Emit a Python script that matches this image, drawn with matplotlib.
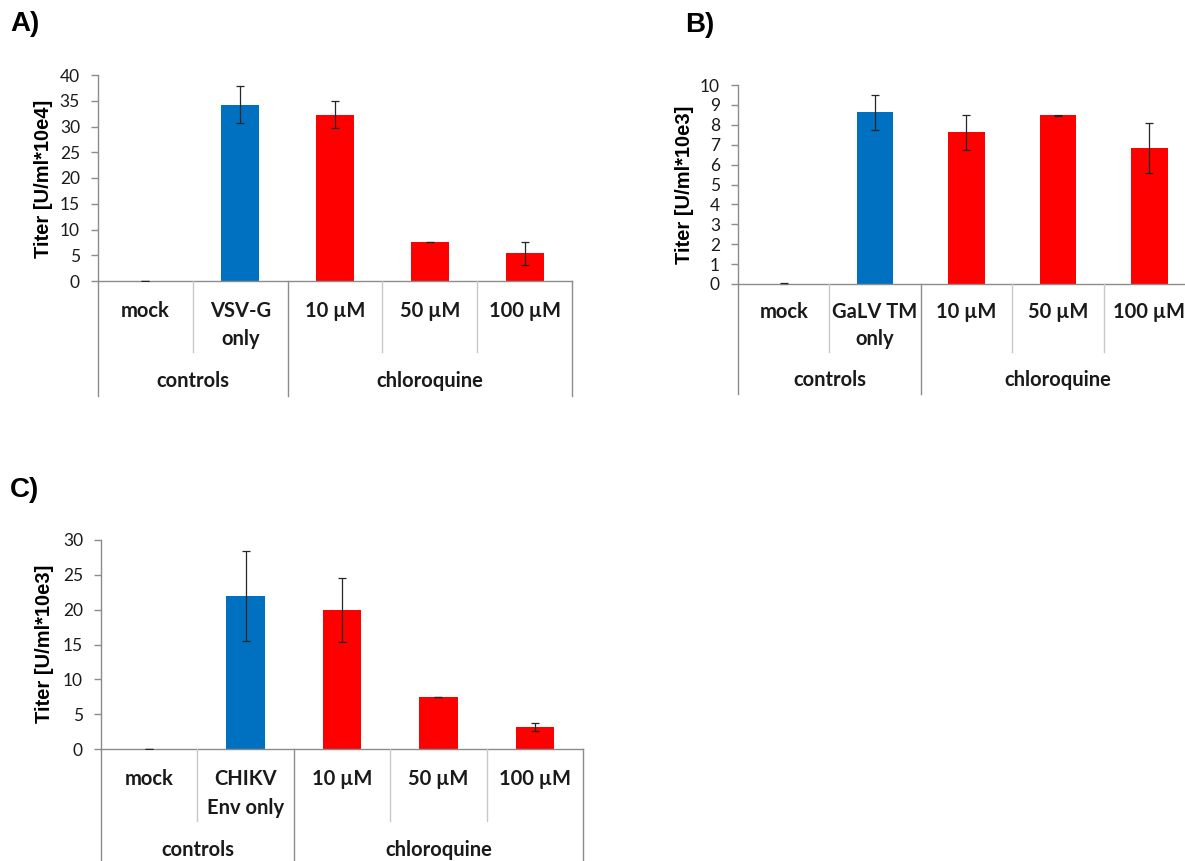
import matplotlib
matplotlib.use("Agg")
import matplotlib.pyplot as plt
from matplotlib.transforms import blended_transform_factory
from matplotlib.lines import Line2D

W, H = 1185, 861
DPI = 100

# ---- data -------------------------------------------------------------
groups = ["controls", "chloroquine"]
group_spans = [(0, 1), (2, 4)]

categories_a = ["mock", "VSV-G\nonly", "10 µM", "50 µM", "100 µM"]
values_a = [0.03, 34.2, 32.3, 7.55, 5.35]
errors_a = [0.04, 3.6, 2.6, 0.05, 2.2]

categories_b = ["mock", "GaLV TM\nonly", "10 µM", "50 µM", "100 µM"]
values_b = [0.02, 8.62, 7.62, 8.48, 6.85]
errors_b = [0.05, 0.87, 0.89, 0.03, 1.25]

categories_c = ["mock", "CHIKV\nEnv only", "10 µM", "50 µM", "100 µM"]
values_c = [0.03, 21.95, 19.95, 7.45, 3.15]
errors_c = [0.03, 6.4, 4.6, 0.05, 0.57]

ylabels = ["Titer [U/ml*10e4]", "Titer [U/ml*10e3]", "Titer [U/ml*10e3]"]
panel_tags = ["A)", "B)", "C)"]
bar_colors = ["#0070C0", "#0070C0", "#FF0000", "#FF0000", "#FF0000"]

# ---- layout (pixels) --------------------------------------------------
panels = [
    dict(cats=categories_a, vals=values_a, errs=errors_a, ymax=40, step=5,
         left=98, right=572, top=75, bottom=281,
         row1=311, row2=339, div1=352, div2=396, grp=381,
         tag=(10, 24), ylab=(44, 179)),
    dict(cats=categories_b, vals=values_b, errs=errors_b, ymax=10, step=1,
         left=738, right=1195, top=85, bottom=284,
         row1=312, row2=339, div1=352, div2=394, grp=380,
         tag=(685, 25), ylab=(685, 185)),
    dict(cats=categories_c, vals=values_c, errs=errors_c, ymax=30, step=5,
         left=101, right=583, top=540, bottom=749,
         row1=779, row2=808, div1=821, div2=861, grp=850,
         tag=(10, 490), ylab=(45, 644)),
]

AXIS_GRAY = "#8C8C8C"
DIV_GRAY = "#C8C8C8"
TICK_FONT = "Lato"
BOLD_FONT = "Liberation Sans"

fig = plt.figure(figsize=(W / DPI, H / DPI), dpi=DPI)
fig.patch.set_facecolor("white")


def fy(py):
    return 1 - py / H


def fx(px):
    return px / W


for p, ylabel, tag in zip(panels, ylabels, panel_tags):
    ax = fig.add_axes([fx(p["left"]), fy(p["bottom"]),
                       (p["right"] - p["left"]) / W,
                       (p["bottom"] - p["top"]) / H])
    n = len(p["cats"])
    xs = list(range(n))
    ax.bar(xs, p["vals"], width=0.4, color=bar_colors, edgecolor="none", zorder=2)
    ax.errorbar(xs, p["vals"], yerr=p["errs"], fmt="none", ecolor="#262626",
                elinewidth=0.9, capsize=3.2, capthick=0.9, zorder=3)

    ax.set_xlim(-0.5, n - 0.5)
    ax.set_ylim(0, p["ymax"])
    ax.set_yticks(range(0, p["ymax"] + 1, p["step"]))
    ax.set_xticks([])
    for s in ("top", "right"):
        ax.spines[s].set_visible(False)
    for s in ("left", "bottom"):
        ax.spines[s].set_color(AXIS_GRAY)
        ax.spines[s].set_linewidth(1.0)
    ax.tick_params(axis="y", direction="out", length=5, width=1.0,
                   color=AXIS_GRAY, pad=8, labelsize=12.5, labelcolor="#1a1a1a")
    for lab in ax.get_yticklabels():
        lab.set_fontfamily(TICK_FONT)

    # category table below the axis
    tr = blended_transform_factory(ax.transData, fig.transFigure)
    y_axis = fy(p["bottom"])
    for i in range(1, n):
        boundary = i - 0.5
        is_group = any(boundary == s[0] - 0.5 for s in group_spans[1:])
        y_end = fy(p["div2"]) if is_group else fy(p["div1"])
        col = AXIS_GRAY if is_group else DIV_GRAY
        fig.add_artist(Line2D([boundary, boundary], [y_axis, y_end],
                              transform=tr, color=col, lw=1.0, clip_on=False))
    for edge in (-0.5, n - 0.5):
        fig.add_artist(Line2D([edge, edge], [y_axis, fy(p["div2"])],
                              transform=tr, color=AXIS_GRAY, lw=1.0, clip_on=False))

    for i, c in enumerate(p["cats"]):
        for j, line in enumerate(c.split("\n")):
            yy = fy(p["row1"] if j == 0 else p["row2"])
            fig.text(i, yy, line, transform=tr, ha="center", va="center",
                     fontsize=14.5, fontweight="bold", fontfamily=TICK_FONT,
                     color="#1a1a1a")
    for g, (a, b) in zip(groups, group_spans):
        fig.text((a + b) / 2, fy(p["grp"]), g, transform=tr,
                 ha="center", va="center", fontsize=14.5, fontweight="bold",
                 fontfamily=TICK_FONT, color="#1a1a1a")

    fig.text(fx(p["ylab"][0]), fy(p["ylab"][1]), ylabel, rotation=90,
             ha="center", va="center", fontsize=14.5, fontweight="bold",
             fontfamily=BOLD_FONT, color="black")
    fig.text(fx(p["tag"][0]), fy(p["tag"][1]), tag, ha="left", va="center",
             fontsize=20, fontweight="bold", fontfamily=BOLD_FONT, color="black")

fig.savefig("out.png", dpi=DPI, facecolor="white")
